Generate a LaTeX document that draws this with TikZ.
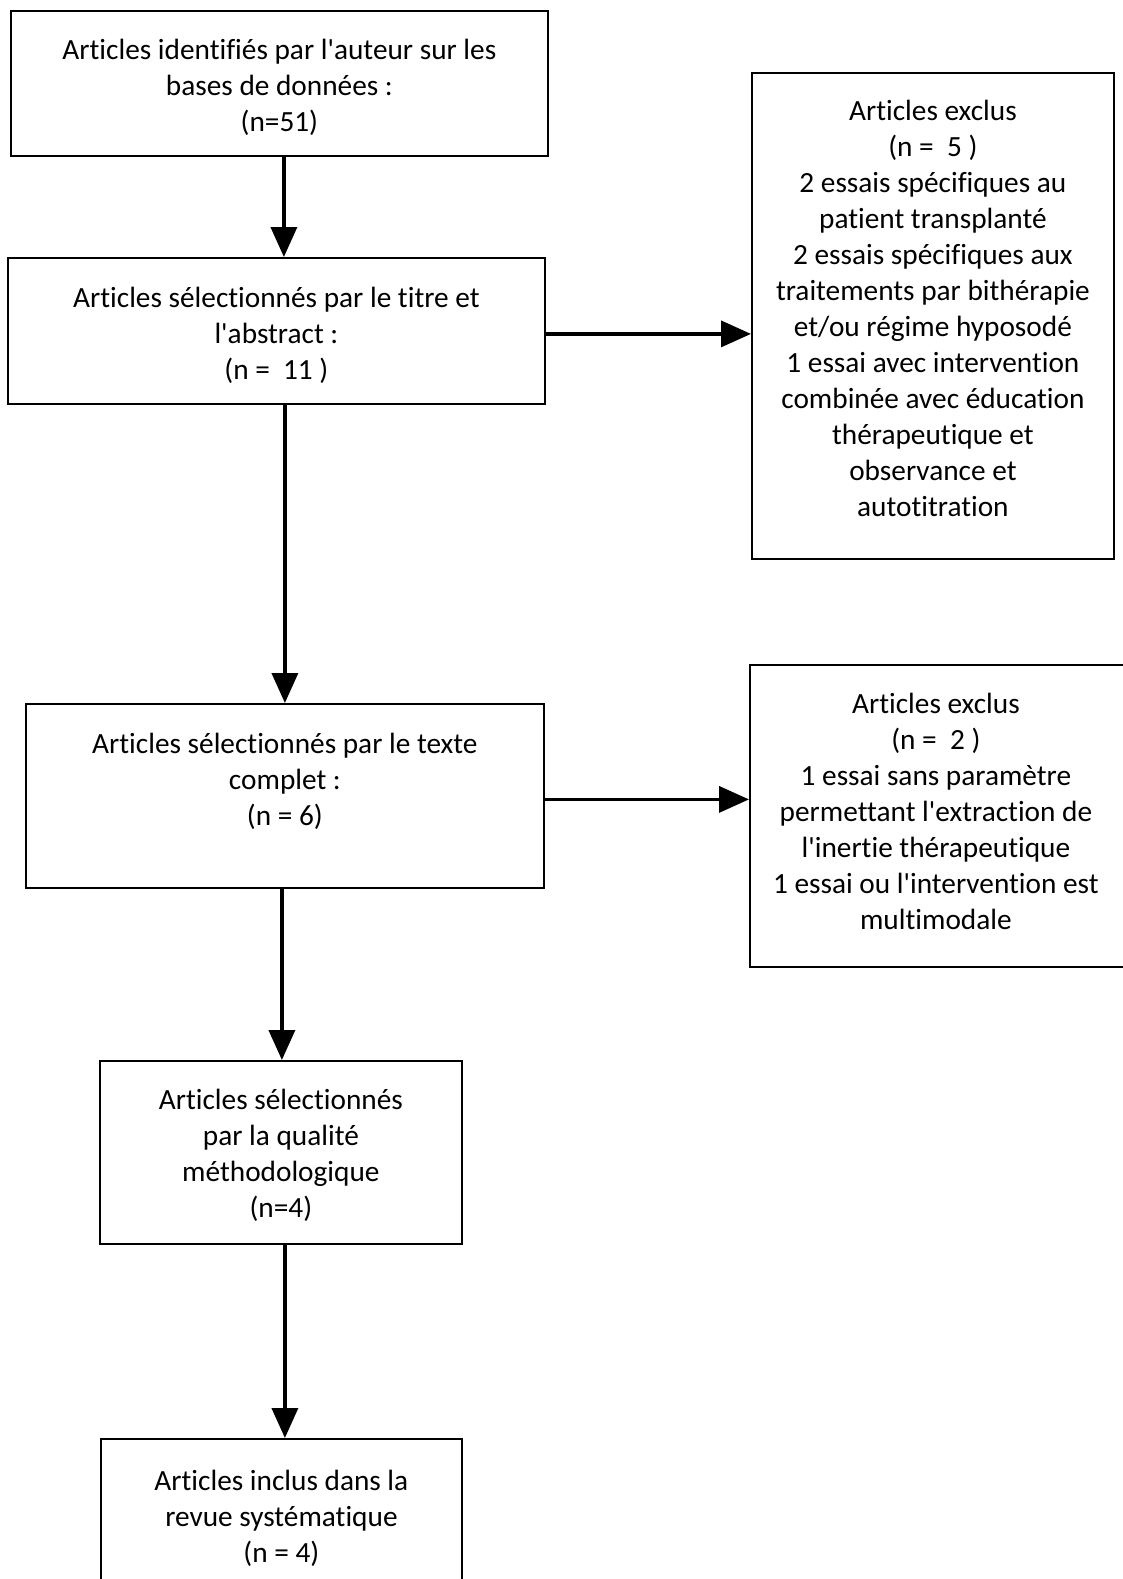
\documentclass[tikz,border=0pt]{standalone}
\usepackage{fontspec}
\setmainfont[Ligatures=NoCommon]{Carlito}
\usetikzlibrary{arrows.meta}
\newcommand\apos{\textquotesingle}
\begin{document}
\begin{tikzpicture}[x=1pt,y=-1pt,
  boxnode/.style={draw=black,line width=1.8pt,inner sep=0pt,anchor=north west,fill=white},
  txt/.style={anchor=north,align=center,inner sep=0pt,font=\fontsize{29.3pt}{36pt}\selectfont},
  arr/.style={line width=3.6pt,-{Triangle[length=30pt,width=26pt]}}]
\useasboundingbox[fill=white] (0,0) rectangle (1122,1579);
% boxes
\node[boxnode,minimum width=537pt,minimum height=145pt] (b1) at (10,10) {};
\node[boxnode,minimum width=537pt,minimum height=146pt] (b2) at (7,257) {};
\node[boxnode,minimum width=362pt,minimum height=486pt] (b3) at (751,72) {};
\node[boxnode,minimum width=518pt,minimum height=184pt] (b4) at (25,703) {};
\node[boxnode,minimum width=390pt,minimum height=302pt] (b5) at (749,664) {};
\node[boxnode,minimum width=362pt,minimum height=183pt] (b6) at (99,1060) {};
\node[boxnode,minimum width=361pt,minimum height=200pt] (b7) at (100,1438) {};
% texts
\node[txt] (t1) at ([yshift=-29pt]b1.north) {Articles identif\kern0pt iés par l\apos auteur sur les\\bases de données :\\(n=51)};
\node[txt] (t2) at ([yshift=-30pt]b2.north) {Articles sélectionnés par le titre et\\l\apos abstract :\\(n =\ \ 11 )};
\node[txt] (t3) at ([yshift=-28pt]b3.north) {Articles exclus\\(n =\ \ 5 )\\2 essais spécif\kern0pt iques au\\patient transplanté\\2 essais spécif\kern0pt iques aux\\traitements par bithérapie\\et/ou régime hyposodé\\1 essai avec intervention\\combinée avec éducation\\thérapeutique et\\observance et\\autotitration};
\node[txt] (t4) at ([yshift=-30pt]b4.north) {Articles sélectionnés par le texte\\complet :\\(n = 6)};
\node[txt] (t5) at ([xshift=-9pt,yshift=-29pt]b5.north) {Articles exclus\\(n =\ \ 2 )\\1 essai sans paramètre\\permettant l\apos extraction de\\l\apos inertie thérapeutique\\1 essai ou l\apos intervention est\\multimodale};
\node[txt] (t6) at ([yshift=-29pt]b6.north) {Articles sélectionnés\\par la qualité\\méthodologique\\(n=4)};
\node[txt] (t7) at ([yshift=-32pt]b7.north) {Articles inclus dans la\\revue systématique\\(n = 4)};
% connectors
\draw[arr] ([xshift=4.5pt]b1.south) -- ([xshift=4.5pt]b1.south |- b2.north);
\draw[arr] ([yshift=-3pt]b2.east) -- ([yshift=-3pt]b2.east -| b3.west);
\draw[arr] ([xshift=8.5pt]b2.south) -- ([xshift=8.5pt]b2.south |- b4.north);
\draw[arr] ([yshift=-3.5pt]b4.east) -- ([yshift=-3.5pt]b4.east -| b5.west);
\draw[arr] ([xshift=-3pt]b4.south) -- ([xshift=-3pt]b4.south |- b6.north);
\draw[arr] ([xshift=4pt]b6.south) -- ([xshift=4pt]b6.south |- b7.north);
\end{tikzpicture}
\end{document}
